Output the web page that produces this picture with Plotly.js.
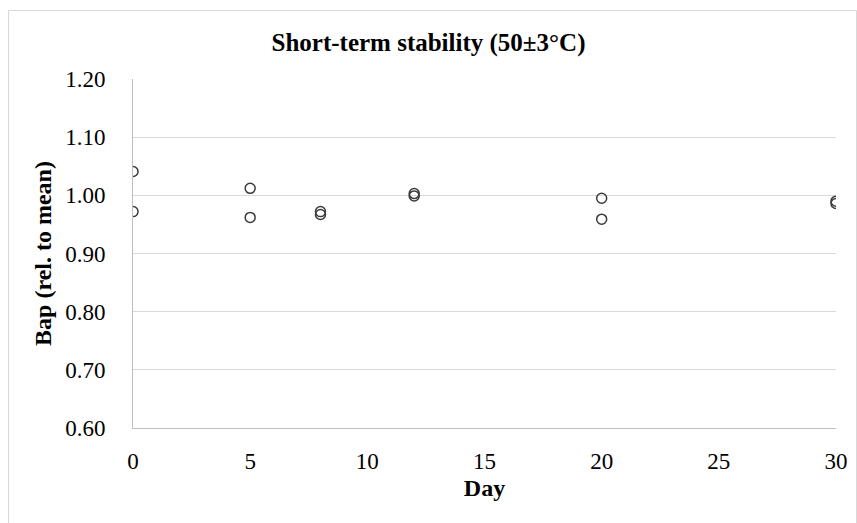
<!DOCTYPE html>
<html>
<head>
<meta charset="utf-8">
<script src="https://cdn.plot.ly/plotly-3.0.1.min.js"></script>
<style>
html,body{margin:0;padding:0;background:#fff;}
#chart{width:857px;height:523px;}
</style>
</head>
<body>
<div id="chart"></div>
<script>
// Data
const days = [0, 0, 5, 5, 8, 8, 12, 12, 20, 20, 30, 30];
const bapRel = [1.041, 0.972, 1.012, 0.962, 0.972, 0.967, 1.003, 0.999, 0.995, 0.959, 0.990, 0.986];
const yTicks = [0.60, 0.70, 0.80, 0.90, 1.00, 1.10, 1.20];
const xTicks = [0, 5, 10, 15, 20, 25, 30];

const serif = "Times New Roman, Liberation Serif, DejaVu Serif, serif";

const trace = {
  x: days,
  y: bapRel,
  type: 'scatter',
  mode: 'markers',
  marker: {
    symbol: 'circle-open',
    size: 10,
    color: '#3a3a3a',
    line: {width: 1.5, color: '#3a3a3a'}
  },
  hoverinfo: 'x+y'
};

const L = 133, R = 21, T = 79, B = 95;
const W = 857 - L - R, H = 523 - T - B;

const layout = {
  width: 857,
  height: 523,
  margin: {l: L, r: R, t: T, b: B, pad: 0},
  paper_bgcolor: '#ffffff',
  plot_bgcolor: '#ffffff',
  showlegend: false,
  font: {family: serif, color: '#000'},
  title: {
    text: '<b>Short-term stability (50±3°C)</b>',
    font: {family: serif, size: 25, color: '#000'},
    x: 0.5, xanchor: 'center',
    y: 1 - 42 / 523, yanchor: 'middle'
  },
  xaxis: {
    range: [0, 30],
    tickvals: xTicks,
    ticktext: xTicks.map(String),
    showgrid: false,
    zeroline: false,
    showline: true,
    linecolor: '#bfbfbf',
    linewidth: 1,
    ticks: '',
    ticklabelstandoff: 12,
    tickfont: {family: serif, size: 23, color: '#000'},
    title: {text: '<b>Day</b>', font: {family: serif, size: 24, color: '#000'}, standoff: 6}
  },
  yaxis: {
    range: [0.60, 1.20],
    tickvals: yTicks,
    ticktext: yTicks.map(v => v.toFixed(2)),
    showgrid: true,
    gridcolor: '#d9d9d9',
    gridwidth: 1,
    zeroline: false,
    showline: true,
    linecolor: '#bfbfbf',
    linewidth: 1,
    ticks: '',
    ticklabelstandoff: 22,
    tickfont: {family: serif, size: 23, color: '#000'},
    title: {text: '<b>Bap (rel. to mean)</b>', font: {family: serif, size: 24, color: '#000'}, standoff: 6}
  },
  shapes: [{
    type: 'rect',
    xref: 'paper', yref: 'paper',
    x0: (8.5 - L) / W, x1: (856.5 - L) / W,
    y0: -(B + 5) / H, y1: 1 + (T - 10.5) / H,
    line: {color: '#d9d9d9', width: 1},
    fillcolor: 'rgba(0,0,0,0)',
    layer: 'below'
  }]
};

Plotly.newPlot('chart', [trace], layout, {displayModeBar: false, staticPlot: true});
</script>
</body>
</html>
